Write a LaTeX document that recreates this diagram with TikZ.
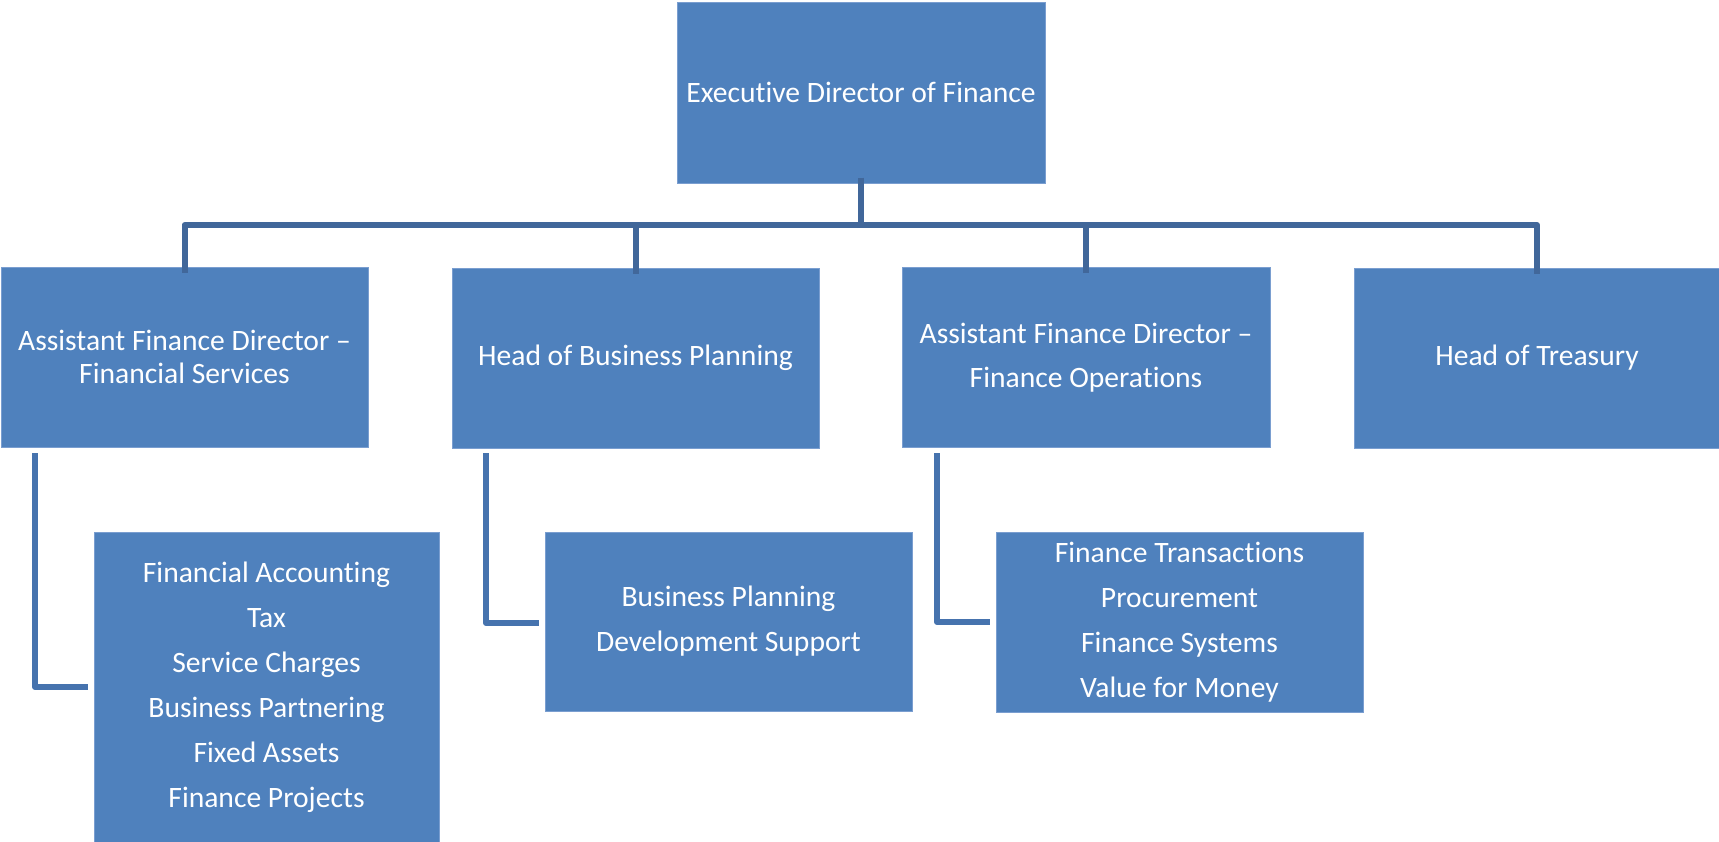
\documentclass[tikz,border=0pt]{standalone}
\usepackage{fontspec}
\setmainfont{Carlito}[Ligatures=NoCommon]
\definecolor{boxfill}{HTML}{4F81BD}
\definecolor{boxedge}{HTML}{7A9ED0}
\definecolor{treeline}{HTML}{41679A}
\definecolor{elbowline}{HTML}{4673AE}
\begin{document}
\begin{tikzpicture}[x=1pt,y=-1pt,
  orgbox/.style={draw=boxedge,line width=1pt,fill=boxfill,text=white,align=center,inner sep=0pt,
    font=\fontsize{29.6}{33}\selectfont},
  listtext/.style={text=white,align=center,inner sep=0pt,font=\fontsize{29.6}{45}\selectfont},
  tree/.style={draw=treeline,line width=6pt,line join=round},
  elbow/.style={draw=elbowline,line width=6pt,line join=round}]
\useasboundingbox (0,0) rectangle (1719,841);
\begin{scope}
\clip (0,0) rectangle (1719,841);
% top
\node[orgbox,minimum width=368pt,minimum height=181pt] (exec) at (861,92.5) {Executive Director of Finance};
% second row
\node[orgbox,minimum width=367pt,minimum height=180pt] (afdfs) at (184.5,357) {Assistant Finance Director –\\Financial Services};
\node[orgbox,minimum width=367pt,minimum height=180pt] (hbp) at (635.5,358) {Head of Business Planning};
\node[orgbox,minimum width=368pt,minimum height=180pt,font=\fontsize{29.6}{44}\selectfont] (afdfo) at (1086,357.5) {Assistant Finance Director –\\Finance Operations};
\node[orgbox,minimum width=366pt,minimum height=180pt] (treas) at (1537,358) {Head of Treasury};
% third row
\node[orgbox,minimum width=345pt,minimum height=320pt] (fsbox) at (266.5,692) {};
\node[listtext] (fslist) at (266.5,687) {Financial Accounting\\Tax\\Service Charges\\Business Partnering\\Fixed Assets\\Finance Projects};
\node[orgbox,minimum width=367pt,minimum height=179pt,font=\fontsize{29.6}{45}\selectfont] (bplist) at (728.5,621.5) {Business Planning\\Development Support};
\node[orgbox,minimum width=367pt,minimum height=180pt,font=\fontsize{29.6}{45}\selectfont] (folist) at (1179.5,622) {Finance Transactions\\Procurement\\Finance Systems\\Value for Money};
\end{scope}
% tree connectors
\coordinate (bar) at (861,225);
\draw[tree] ([yshift=6pt]exec.south) -- (bar);
\draw[tree] ([yshift=-6pt]afdfs.north) |- (bar);
\draw[tree] ([yshift=-6pt]hbp.north) -- (hbp.north |- bar);
\draw[tree] ([yshift=-6pt]afdfo.north) -- (afdfo.north |- bar);
\draw[tree] ([yshift=-6pt]treas.north) |- (bar);
% elbow connectors
\coordinate (e1) at (35,453);
\coordinate (e2) at (486,453);
\coordinate (e3) at (937,453);
\draw[elbow] (e1) |- ([xshift=-6pt]fsbox.west |- 0,687);
\draw[elbow] (e2) |- ([xshift=-6pt]bplist.west |- 0,623);
\draw[elbow] (e3) |- ([xshift=-6pt]folist.west |- 0,622);
\end{tikzpicture}
\end{document}
